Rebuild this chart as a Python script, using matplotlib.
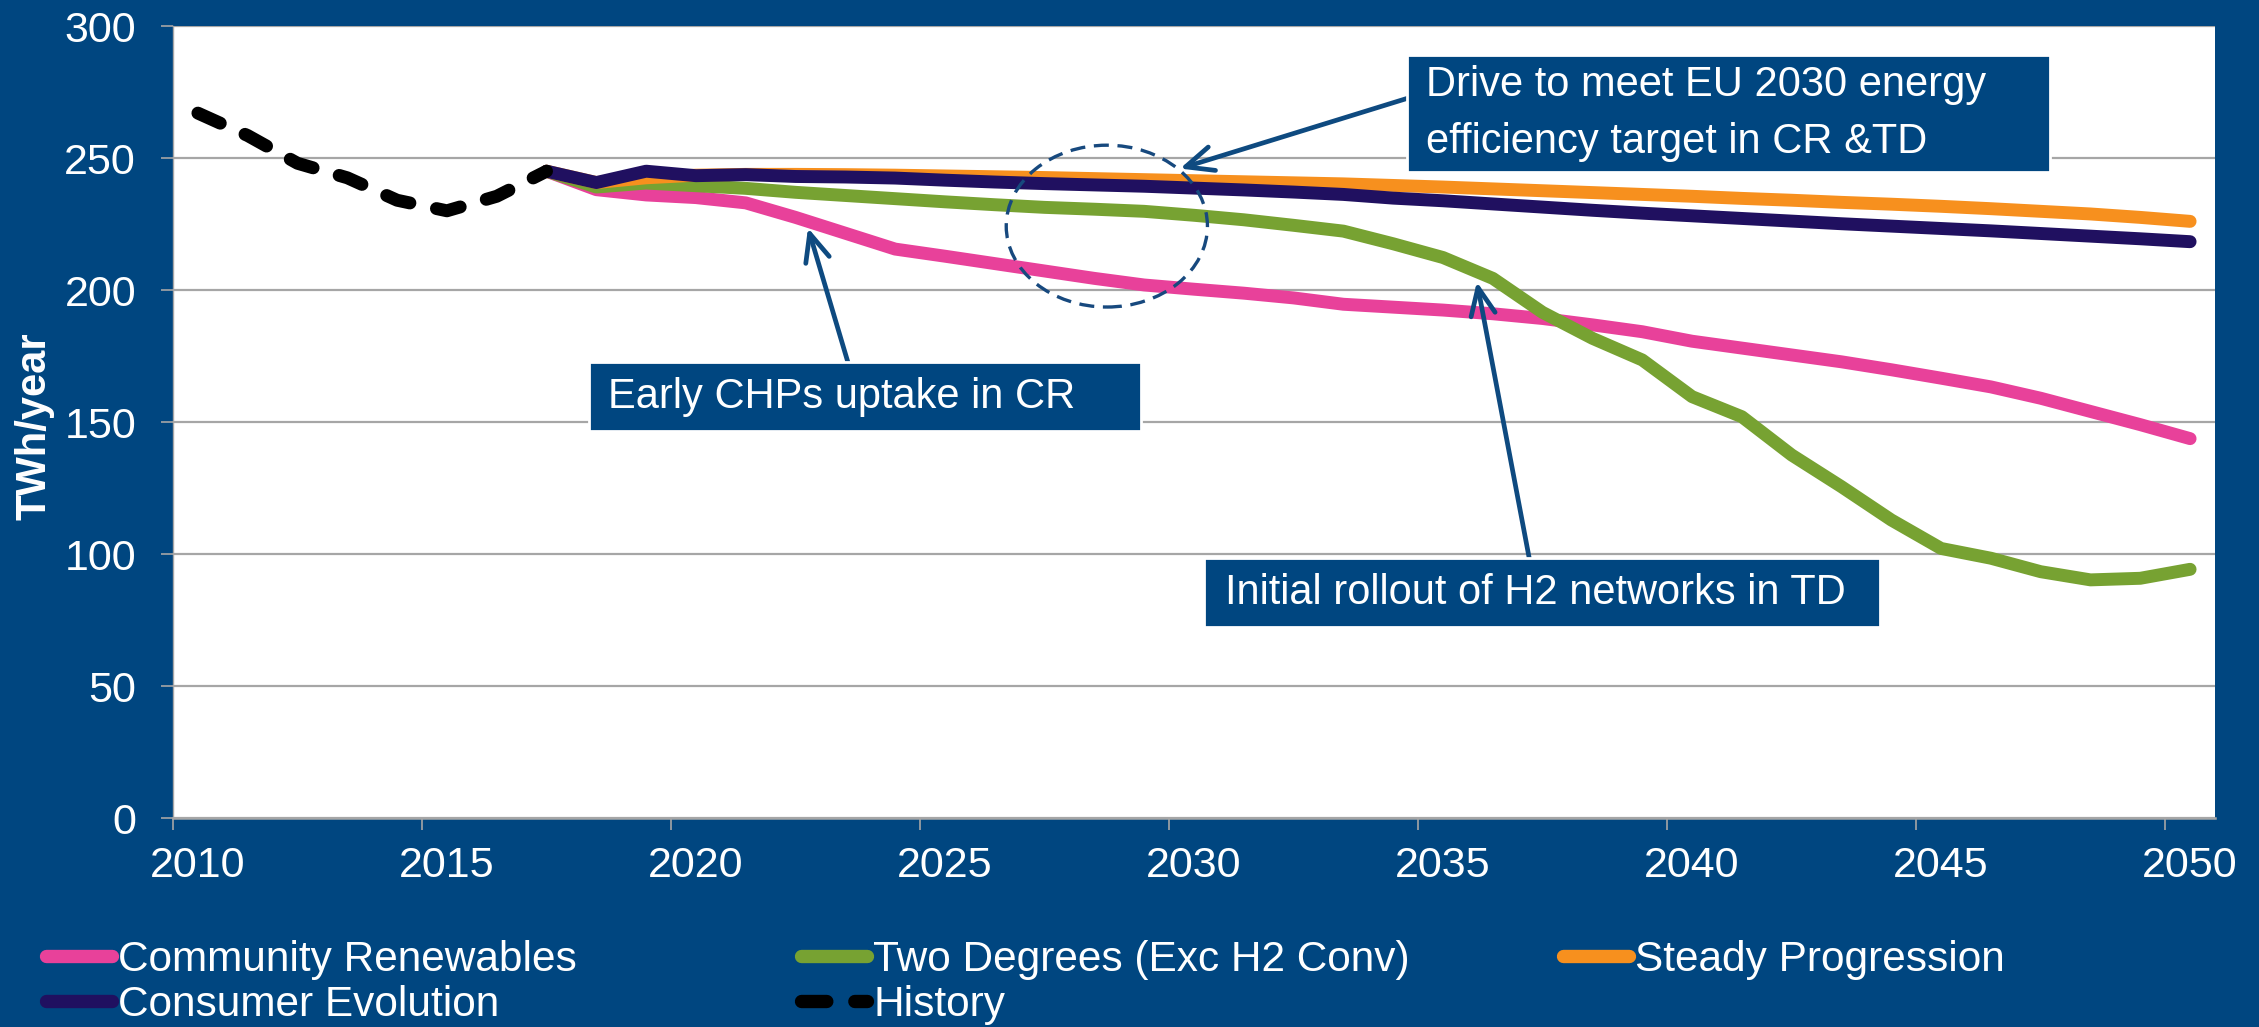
import matplotlib
matplotlib.use("Agg")
import matplotlib.pyplot as plt
from matplotlib.patches import Rectangle, Ellipse
from matplotlib.lines import Line2D

plt.rcParams['font.family'] = ['Liberation Sans', 'DejaVu Sans']

# ── data (TWh/year) ───────────────────────────────────────────────────────────
hist_years = list(range(2010, 2018))
history = [267, 258.5, 248, 242.5, 234, 230, 235.5, 245]

years = list(range(2017, 2051))
community_renewables = [245, 238, 236, 235, 233, 227.5, 221.5, 215.5, 212.8, 210,
                        207.2, 204.4, 201.9, 200.3, 198.8, 197, 194.6, 193.5, 192.4, 191,
                        189.2, 186.8, 184.2, 180.6, 178, 175.4, 172.8, 169.8, 166.6, 163.3,
                        159, 154, 149, 143.7]
two_degrees = [245, 239, 240.5, 239.5, 238.5, 237, 235.8, 234.6, 233.4, 232.3,
               231.3, 230.6, 229.8, 228.3, 226.6, 224.5, 222.3, 217.5, 212.3, 204.4,
               191.5, 181.7, 173.5, 159.6, 152, 137.5, 125.5, 112.9, 102.1, 98.4,
               93.3, 90.2, 90.8, 94.2]
steady_progression = [245, 240.7, 242.5, 243.5, 243.8, 243.8, 243.7, 243.5, 243.2, 242.9,
                      242.6, 242.2, 241.8, 241.4, 241, 240.6, 240.2, 239.6, 239, 238.3,
                      237.6, 236.9, 236.2, 235.5, 234.7, 234, 233.2, 232.5, 231.7, 230.8,
                      229.8, 228.8, 227.5, 226]
consumer_evolution = [245, 240.7, 245, 243.3, 243.7, 243, 242.8, 242.4, 241.6, 240.9,
                      240.3, 239.8, 239.3, 238.6, 237.9, 237.1, 236.2, 234.8, 233.8, 232.6,
                      231.4, 230.2, 229.1, 228.1, 227.1, 226.1, 225.1, 224.2, 223.3, 222.4,
                      221.4, 220.4, 219.4, 218.3]

y_ticks = [0, 50, 100, 150, 200, 250, 300]
x_labels = [2010, 2015, 2020, 2025, 2030, 2035, 2040, 2045, 2050]

# ── style ─────────────────────────────────────────────────────────────────────
BG = '#004680'
ARROW = '#0E4A80'
W, H = 2259, 1027
LW = 9.3

fig = plt.figure(figsize=(W / 100, H / 100), dpi=100, facecolor=BG)
ax = fig.add_axes([173 / W, 1 - 818 / H, (2215 - 173) / W, (818 - 26) / H])
ax.set_facecolor('white')

series = [
    (community_renewables, '#E8419A', 'Community Renewables'),
    (two_degrees, '#77A232', 'Two Degrees (Exc H2 Conv)'),
    (steady_progression, '#F7901E', 'Steady Progression'),
    (consumer_evolution, '#201060', 'Consumer Evolution'),
]
handles = {}
for vals, col, name in series:
    ln, = ax.plot(years, vals, color=col, lw=LW, solid_capstyle='round',
                  solid_joinstyle='round', label=name, zorder=3)
    handles[name] = ln
ln, = ax.plot(hist_years, history, color='black', lw=LW, dashes=(1.9, 2.1),
              dash_capstyle='round', label='History', zorder=3)
handles['History'] = ln

ax.set_xlim(2009.5, 2050.5)
ax.set_ylim(0, 300)
ax.set_yticks(y_ticks)
ax.set_xticks([x - 0.5 for x in x_labels])
ax.set_xticklabels([])
ax.set_xticks(x_labels, minor=True)
ax.set_xticklabels([str(x) for x in x_labels], minor=True)
ax.grid(axis='y', color='#A6A6A6', lw=1.6, zorder=1)
ax.set_axisbelow(True)
ax.tick_params(axis='x', which='major', length=8.6, width=1.2, color='#A6A6A6', direction='out')
ax.tick_params(axis='x', which='minor', length=0, pad=20, labelsize=31, labelcolor='white')
ax.tick_params(axis='y', length=8.6, width=1.2, color='#A6A6A6', pad=18,
               labelsize=31, labelcolor='white')
for s in ['top', 'right']:
    ax.spines[s].set_visible(False)
ax.spines['bottom'].set_color('#A6A6A6')
ax.spines['bottom'].set_linewidth(1.8)
ax.spines['left'].set_color('#A6A6A6')
ax.spines['left'].set_linewidth(1.0)

fig.text(35 / W, 1 - 426 / H, 'TWh/year', rotation=90, color='white', fontsize=30,
         fontweight='bold', ha='center', va='center')

# ── dashed ellipse and arrows ─────────────────────────────────────────────────
ax.add_patch(Ellipse((2028.25, 224.2), 4.04, 61.3, fill=False, ec='#17497E', lw=2.4,
                     ls=(0, (4.5, 2.6)), zorder=5))

arrow_kw = dict(arrowstyle='->,head_length=0.9,head_width=0.4', color=ARROW, lw=3.4,
                mutation_scale=22, shrinkA=0, shrinkB=0)
ax.annotate('', xy=(2022.25, 223.5), xytext=(2023.05, 172.7), arrowprops=arrow_kw, zorder=6)
ax.annotate('', xy=(2035.68, 203.1), xytext=(2036.73, 98.5), arrowprops=arrow_kw, zorder=6)
ax.annotate('', xy=(2029.72, 246.0), xytext=(2034.3, 272.7), arrowprops=arrow_kw, zorder=6)


# ── text boxes (pixel layout) ─────────────────────────────────────────────────
def box(x0, y0, x1, y1, tx, text):
    fig.add_artist(Rectangle((x0 / W, 1 - y1 / H), (x1 - x0) / W, (y1 - y0) / H,
                             transform=fig.transFigure, fc=BG, ec='white', lw=2, zorder=10))
    fig.text(tx / W, 1 - (y0 + y1) / 2 / H, text, color='white', fontsize=30,
             ha='left', va='center', linespacing=1.52, zorder=11)


box(1407, 55, 2050, 172, 1426, 'Drive to meet EU 2030 energy\nefficiency target in CR &TD')
box(589, 362, 1141, 431, 608, 'Early CHPs uptake in CR')
box(1204, 558, 1880, 627, 1225, 'Initial rollout of H2 networks in TD')

# ── legend: three columns placed separately ───────────────────────────────────
columns = [(46, ['Community Renewables', 'Consumer Evolution']),
           (801, ['Two Degrees (Exc H2 Conv)', 'History']),
           (1563, ['Steady Progression'])]
for x0, names in columns:
    hs = []
    for n in names:
        src = handles[n]
        h = Line2D([], [], color=src.get_color(), lw=9.6, solid_capstyle='round',
                   dash_capstyle='round')
        if n == 'History':
            h.set_dashes((1.9, 2.1))
        hs.append(h)
    fig.legend(hs, names, loc='upper left', bbox_to_anchor=(x0 / W, 1 - 940 / H),
               frameon=False, fontsize=30.5, labelcolor='white', handlelength=1.55,
               handletextpad=0.15, labelspacing=0.12, borderpad=0, borderaxespad=0)

fig.savefig('out.png', dpi=100, facecolor=BG)
